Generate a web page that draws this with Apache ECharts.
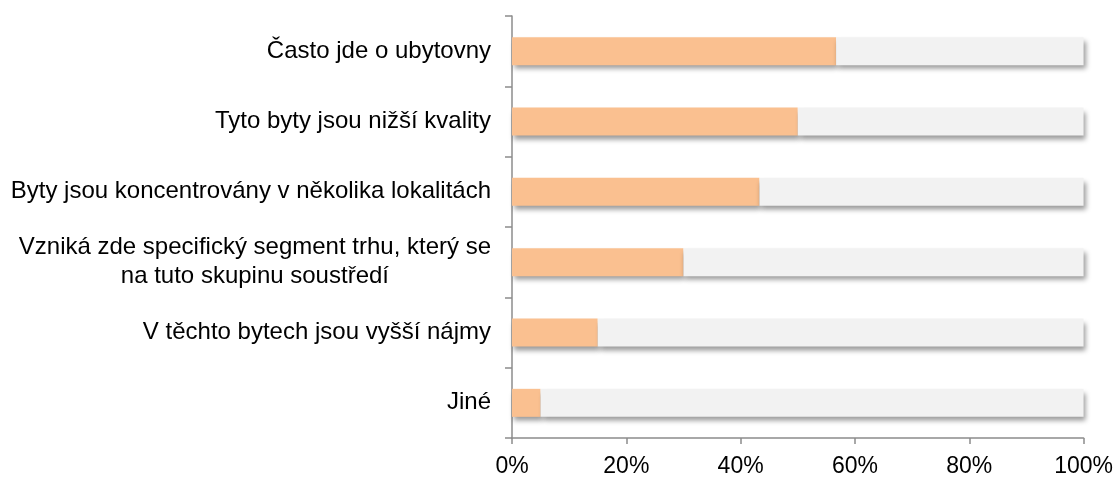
<!DOCTYPE html>
<html>
<head>
<meta charset="utf-8">
<script src="https://cdn.jsdelivr.net/npm/echarts@6/dist/echarts.min.js"></script>
<style>
  html, body { margin: 0; padding: 0; background: #fff; }
  #chart { width: 1116px; height: 478px; }
</style>
</head>
<body>
<div id="chart"></div>
<script>
// kategorie odshora dolu
var categories = [
  'Často jde o ubytovny',
  'Tyto byty jsou nižší kvality',
  'Byty jsou koncentrovány v několika lokalitách',
  'Vzniká zde specifický segment trhu, který se\nna tuto skupinu soustředí',
  'V těchto bytech jsou vyšší nájmy',
  'Jiné'
]
var values = [56.7, 50, 43.3, 30, 15, 5]
var xTicks = [0, 20, 40, 60, 80, 100]

// zbytek do 100 %
var rest = values.map(function (v) { return 100 - v })

var myChart = echarts.init(document.getElementById('chart'))

var font = 'Liberation Sans, Arial, sans-serif'
var axisGray = '#8c8c8c'

var shadow = {
  shadowColor: 'rgba(0,0,0,0.4)',
  shadowBlur: 5,
  shadowOffsetX: 2,
  shadowOffsetY: 4
}

var option = {
  animation: false,
  grid: { left: 512, right: 32, top: 16, bottom: 40, containLabel: false },
  xAxis: {
    type: 'value',
    min: xTicks[0],
    max: xTicks[xTicks.length - 1],
    interval: 20,
    axisLine: { show: true, lineStyle: { color: axisGray, width: 1.5 } },
    axisTick: { show: true, length: 6, lineStyle: { color: axisGray, width: 1.5 } },
    splitLine: { show: false },
    axisLabel: {
      formatter: '{value}%',
      color: '#000',
      fontSize: 23,
      fontFamily: font,
      margin: 17
    }
  },
  yAxis: {
    type: 'category',
    inverse: true,
    data: categories,
    axisLine: { show: true, lineStyle: { color: axisGray, width: 1.5 } },
    axisTick: { show: true, length: 7, lineStyle: { color: axisGray, width: 1.5 } },
    axisLabel: {
      color: '#000',
      fontSize: 24,
      fontFamily: font,
      margin: 21,
      lineHeight: 29,
      // kazdy radek vycentrovany v bloku zarovnanem doprava
      formatter: function (v) {
        return v.split('\n').map(function (s) { return '{c|' + s + '}' }).join('\n')
      },
      rich: {
        c: { align: 'center', fontSize: 24, fontFamily: font, color: '#000', lineHeight: 29 }
      }
    }
  },
  series: [
    {
      name: 'hodnota',
      type: 'bar',
      stack: 'a',
      barWidth: 28,
      data: values,
      itemStyle: Object.assign({ color: '#fac090' }, shadow)
    },
    {
      name: 'zbytek',
      type: 'bar',
      stack: 'a',
      barWidth: 28,
      data: rest,
      itemStyle: Object.assign({ color: '#f2f2f2' }, shadow)
    }
  ]
}

myChart.setOption(option)
</script>
</body>
</html>
